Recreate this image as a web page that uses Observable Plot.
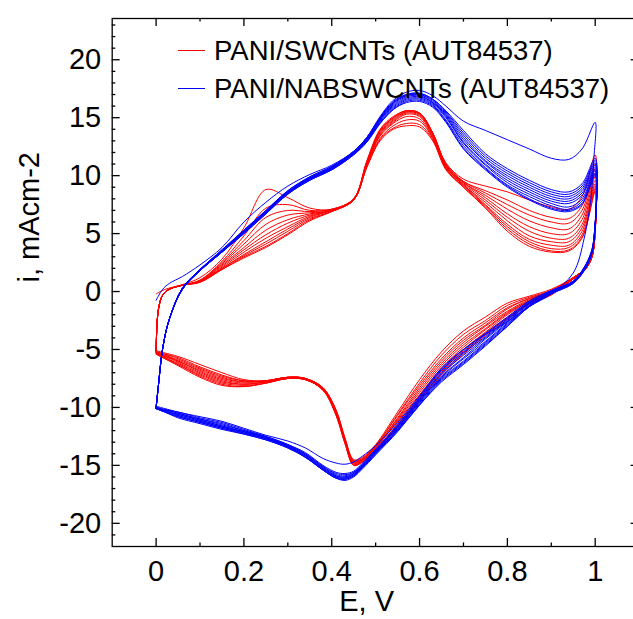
<!DOCTYPE html>
<html><head><meta charset="utf-8">
<script src="https://cdn.jsdelivr.net/npm/d3@7"></script>
<script src="https://cdn.jsdelivr.net/npm/@observablehq/plot@0.6"></script>
<style>
html,body{margin:0;padding:0;background:#fff;overflow:hidden}
#wrap{position:relative;width:633px;height:619px;overflow:hidden;background:#fff}
#wrap svg{max-width:none !important}
.lg{position:absolute;left:178px;height:0;font-family:"Liberation Sans",Arial,sans-serif;font-size:27.5px;color:#000;white-space:nowrap}
.lg span.sw{position:absolute;left:0;top:-1px;width:27px;height:0;border-top:1.5px solid}
.lg span.tx{position:absolute;left:36px;top:0;transform:translateY(-50%);line-height:1}
</style></head>
<body><div id="wrap"></div>
<script>
// Series
const seriesNames = ["PANI/SWCNTs (AUT84537)", "PANI/NABSWCNTs (AUT84537)"];
const seriesColors = ["#ff0000", "#0000ff"];

// Potential grids (V): anodic (forward) sweep and cathodic (reverse) sweep
const fwdE = [0, 0.005, 0.015, 0.03, 0.06, 0.1, 0.15, 0.2, 0.25, 0.3, 0.35, 0.4, 0.45, 0.48, 0.51, 0.54, 0.57, 0.6, 0.63, 0.66, 0.7, 0.75, 0.8, 0.85, 0.9, 0.94, 0.97, 1.0];
const revE = [0.997, 0.99, 0.975, 0.95, 0.9, 0.85, 0.8, 0.75, 0.7, 0.65, 0.6, 0.55, 0.5, 0.47, 0.45, 0.43, 0.41, 0.38, 0.34, 0.3, 0.25, 0.2, 0.15, 0.1, 0.05, 0.02, 0.0];

// PANI/SWCNTs, current density (mA cm-2), one row per cycle
const redFwd = [
  [-0.2, -0.1, 0.1, 0.3, 0.6, 1.2, 2.8, 5.5, 8.8, 8.1, 7.2, 7.1, 8.0, 11.3, 14.0, 15.1, 15.6, 15.4, 13.7, 11.1, 9.7, 9.1, 8.6, 7.9, 7.3, 7.1, 8.2, 11.8],
  [-5.2, -1.6, -0.3, 0.2, 0.55, 1.0, 2.6, 4.8, 7.2, 7.5, 7.0, 7.1, 8.0, 11.2, 13.9, 15.0, 15.6, 15.4, 13.7, 11.0, 9.5, 8.7, 7.9, 7.0, 6.4, 6.3, 7.4, 11.0],
  [-5.2, -1.6, -0.3, 0.2, 0.55, 0.95, 2.5, 4.4, 6.4, 7.0, 6.9, 7.1, 8.0, 11.2, 13.9, 15.0, 15.6, 15.4, 13.7, 11.0, 9.5, 8.5, 7.5, 6.6, 6.0, 5.9, 7.0, 10.6],
  [-5.2, -1.6, -0.3, 0.2, 0.55, 0.95, 2.4, 4.1, 5.8, 6.6, 6.8, 7.0, 8.0, 11.1, 13.8, 14.9, 15.5, 15.3, 13.6, 10.9, 9.4, 8.3, 7.1, 6.1, 5.5, 5.4, 6.6, 10.2],
  [-5.2, -1.6, -0.3, 0.2, 0.55, 0.9, 2.3, 3.8, 5.3, 6.2, 6.7, 7.0, 8.0, 11.1, 13.7, 14.8, 15.5, 15.3, 13.6, 10.9, 9.4, 8.1, 6.7, 5.6, 5.0, 5.0, 6.2, 9.9],
  [-5.2, -1.6, -0.3, 0.2, 0.55, 0.9, 2.2, 3.6, 4.9, 5.9, 6.6, 7.0, 8.0, 11.0, 13.6, 14.7, 15.4, 15.2, 13.5, 10.8, 9.3, 7.9, 6.4, 5.2, 4.6, 4.6, 5.8, 9.6],
  [-5.2, -1.6, -0.3, 0.2, 0.55, 0.85, 2.1, 3.4, 4.6, 5.6, 6.5, 7.0, 7.9, 11.0, 13.5, 14.6, 15.3, 15.1, 13.4, 10.8, 9.2, 7.7, 6.1, 4.8, 4.3, 4.3, 5.5, 9.3],
  [-5.2, -1.6, -0.3, 0.2, 0.55, 0.85, 2.0, 3.2, 4.3, 5.4, 6.4, 7.0, 7.9, 10.9, 13.4, 14.5, 15.1, 14.9, 13.3, 10.7, 9.2, 7.5, 5.8, 4.5, 4.0, 4.0, 5.2, 9.1],
  [-5.2, -1.6, -0.3, 0.2, 0.55, 0.85, 2.0, 3.1, 4.1, 5.2, 6.3, 6.9, 7.9, 10.8, 13.2, 14.3, 14.8, 14.7, 13.2, 10.6, 9.1, 7.4, 5.6, 4.3, 3.7, 3.8, 4.9, 8.9],
  [-5.2, -1.6, -0.3, 0.2, 0.55, 0.8, 1.9, 3.0, 3.9, 5.0, 6.2, 6.9, 7.9, 10.8, 13.1, 14.1, 14.5, 14.4, 13.1, 10.6, 9.0, 7.3, 5.4, 4.1, 3.5, 3.6, 4.7, 8.7],
  [-5.2, -1.6, -0.3, 0.2, 0.55, 0.8, 1.9, 2.9, 3.8, 4.9, 6.1, 6.9, 7.9, 10.7, 13.0, 14.0, 14.3, 14.2, 13.0, 10.5, 9.0, 7.2, 5.2, 3.9, 3.4, 3.5, 4.6, 8.6]
];
const redRev = [
  [3.9, 2.8, 1.9, 1.2, 0.2, -0.4, -1.0, -2.2, -3.4, -5.2, -7.6, -10.4, -13.2, -14.3, -14.5, -12.6, -10.2, -8.3, -7.5, -7.4, -7.7, -7.6, -7.0, -6.3, -5.6, -5.3, -5.1],
  [3.9, 2.8, 1.9, 1.2, 0.1, -0.5, -1.2, -2.5, -3.7, -5.5, -7.9, -10.6, -13.3, -14.4, -14.6, -12.7, -10.3, -8.3, -7.5, -7.4, -7.7, -7.7, -7.2, -6.5, -5.7, -5.4, -5.2],
  [3.9, 2.8, 1.9, 1.2, 0.05, -0.6, -1.4, -2.7, -4.0, -5.8, -8.1, -10.7, -13.3, -14.4, -14.6, -12.7, -10.3, -8.3, -7.5, -7.4, -7.7, -7.7, -7.3, -6.6, -5.8, -5.4, -5.2],
  [3.9, 2.8, 1.9, 1.2, 0.0, -0.6, -1.5, -2.9, -4.2, -6.0, -8.3, -10.9, -13.4, -14.5, -14.7, -12.8, -10.4, -8.4, -7.5, -7.4, -7.7, -7.8, -7.4, -6.7, -5.9, -5.5, -5.2],
  [3.9, 2.8, 1.9, 1.2, 0.0, -0.7, -1.7, -3.0, -4.4, -6.2, -8.5, -11.0, -13.4, -14.5, -14.7, -12.8, -10.4, -8.4, -7.5, -7.4, -7.7, -7.8, -7.5, -6.8, -6.0, -5.5, -5.3],
  [3.9, 2.8, 1.9, 1.2, -0.05, -0.8, -1.8, -3.2, -4.6, -6.4, -8.7, -11.1, -13.5, -14.5, -14.8, -12.9, -10.5, -8.4, -7.6, -7.4, -7.8, -7.9, -7.6, -6.9, -6.0, -5.6, -5.3],
  [3.8, 2.7, 1.8, 1.1, -0.1, -0.8, -1.9, -3.3, -4.8, -6.6, -8.9, -11.2, -13.5, -14.6, -14.8, -12.9, -10.5, -8.4, -7.6, -7.5, -7.8, -8.0, -7.7, -7.0, -6.1, -5.6, -5.3],
  [3.8, 2.7, 1.8, 1.1, -0.15, -0.9, -2.0, -3.5, -5.0, -6.8, -9.0, -11.4, -13.6, -14.6, -14.9, -13.0, -10.6, -8.5, -7.6, -7.5, -7.8, -8.0, -7.8, -7.1, -6.2, -5.7, -5.3],
  [3.8, 2.7, 1.8, 1.1, -0.2, -1.0, -2.2, -3.6, -5.1, -6.9, -9.2, -11.5, -13.7, -14.7, -14.9, -13.0, -10.6, -8.5, -7.6, -7.5, -7.9, -8.1, -7.9, -7.2, -6.3, -5.7, -5.4],
  [3.8, 2.7, 1.8, 1.1, -0.25, -1.0, -2.3, -3.7, -5.3, -7.1, -9.3, -11.6, -13.7, -14.7, -15.0, -13.1, -10.7, -8.5, -7.6, -7.5, -7.9, -8.2, -8.0, -7.3, -6.3, -5.8, -5.4],
  [3.8, 2.7, 1.8, 1.1, -0.3, -1.1, -2.4, -3.8, -5.4, -7.2, -9.4, -11.7, -13.8, -14.7, -15.0, -13.1, -10.7, -8.5, -7.6, -7.5, -7.9, -8.2, -8.1, -7.4, -6.4, -5.8, -5.4]
];

// PANI/NABSWCNTs, current density (mA cm-2), one row per cycle
const blueFwd = [
  [-0.75, -0.4, 0.2, 0.7, 1.3, 2.3, 3.8, 6.0, 7.7, 9.1, 10.1, 10.9, 12.1, 13.3, 15.1, 16.5, 17.2, 17.35, 16.9, 16.0, 14.7, 13.9, 13.1, 12.3, 11.5, 11.4, 12.3, 14.6],
  [-9.9, -8.2, -4.9, -2.4, 0.3, 1.9, 3.6, 5.3, 7.0, 8.7, 9.9, 10.8, 12.1, 13.3, 15.0, 16.4, 17.0, 17.1, 16.6, 15.6, 13.9, 11.9, 10.6, 9.6, 8.8, 8.6, 9.3, 11.5],
  [-10.0, -8.2, -4.9, -2.4, 0.3, 1.9, 3.6, 5.3, 7.0, 8.7, 9.9, 10.8, 12.1, 13.3, 15.0, 16.3, 17.0, 17.1, 16.6, 15.5, 13.7, 11.7, 10.4, 9.4, 8.6, 8.4, 9.1, 11.3],
  [-10.0, -8.2, -4.9, -2.4, 0.3, 1.9, 3.5, 5.2, 6.9, 8.6, 9.8, 10.7, 12.0, 13.2, 14.9, 16.3, 16.9, 17.0, 16.5, 15.4, 13.5, 11.5, 10.2, 9.2, 8.4, 8.2, 8.9, 11.1],
  [-10.0, -8.2, -4.9, -2.4, 0.3, 1.9, 3.5, 5.2, 6.9, 8.6, 9.8, 10.7, 12.0, 13.2, 14.9, 16.2, 16.9, 17.0, 16.4, 15.3, 13.3, 11.3, 10.0, 9.0, 8.2, 8.0, 8.7, 10.9],
  [-10.0, -8.2, -4.9, -2.4, 0.3, 1.9, 3.5, 5.2, 6.9, 8.6, 9.8, 10.7, 12.0, 13.1, 14.8, 16.1, 16.8, 16.9, 16.3, 15.2, 13.1, 11.2, 9.8, 8.8, 8.0, 7.8, 8.5, 10.7],
  [-10.0, -8.2, -4.9, -2.4, 0.2, 1.8, 3.5, 5.1, 6.8, 8.5, 9.7, 10.6, 11.9, 13.1, 14.8, 16.0, 16.7, 16.8, 16.3, 15.1, 12.9, 11.0, 9.6, 8.6, 7.8, 7.6, 8.3, 10.5],
  [-10.1, -8.2, -4.9, -2.4, 0.2, 1.8, 3.4, 5.1, 6.8, 8.5, 9.7, 10.6, 11.9, 13.0, 14.7, 15.9, 16.6, 16.7, 16.2, 15.0, 12.8, 10.9, 9.4, 8.4, 7.6, 7.3, 8.0, 10.4],
  [-10.1, -8.2, -4.9, -2.4, 0.2, 1.8, 3.4, 5.1, 6.8, 8.5, 9.7, 10.6, 11.9, 13.0, 14.6, 15.8, 16.5, 16.6, 16.1, 14.8, 12.6, 10.7, 9.2, 8.2, 7.4, 7.1, 7.8, 10.2],
  [-10.1, -8.2, -4.9, -2.4, 0.2, 1.8, 3.4, 5.0, 6.7, 8.4, 9.6, 10.5, 11.8, 12.9, 14.5, 15.7, 16.4, 16.5, 16.0, 14.7, 12.4, 10.6, 9.1, 8.0, 7.2, 7.0, 7.6, 10.1],
  [-10.1, -8.2, -4.9, -2.4, 0.2, 1.8, 3.4, 5.0, 6.7, 8.4, 9.6, 10.5, 11.8, 12.9, 14.5, 15.7, 16.3, 16.4, 15.9, 14.6, 12.3, 10.5, 9.0, 7.9, 7.1, 6.9, 7.5, 10.0]
];
const blueRev = [
  [11.5, 8.0, 4.6, 1.6, -0.2, -1.3, -2.6, -3.7, -5.0, -6.6, -9.0, -11.3, -13.3, -14.2, -14.7, -14.9, -14.8, -14.4, -13.5, -12.9, -12.4, -11.8, -11.2, -10.8, -10.4, -10.1, -9.9],
  [4.6, 3.3, 2.1, 0.9, 0.1, -0.8, -2.2, -3.6, -5.0, -6.7, -9.1, -11.5, -13.6, -14.8, -15.5, -15.7, -15.6, -15.0, -13.9, -13.2, -12.5, -11.9, -11.3, -10.9, -10.4, -10.2, -10.0],
  [4.6, 3.3, 2.1, 0.9, 0.05, -0.9, -2.3, -3.7, -5.2, -6.8, -9.2, -11.6, -13.7, -14.9, -15.6, -15.8, -15.7, -15.1, -14.0, -13.2, -12.5, -12.0, -11.4, -11.0, -10.5, -10.2, -10.0],
  [4.5, 3.2, 2.0, 0.9, 0.0, -0.9, -2.4, -3.9, -5.3, -7.0, -9.3, -11.7, -13.7, -14.9, -15.6, -15.9, -15.8, -15.1, -14.0, -13.3, -12.6, -12.0, -11.5, -11.0, -10.5, -10.2, -10.0],
  [4.5, 3.2, 2.0, 0.8, 0.0, -1.0, -2.5, -4.0, -5.5, -7.1, -9.4, -11.7, -13.8, -15.0, -15.7, -16.0, -15.9, -15.2, -14.1, -13.3, -12.6, -12.1, -11.6, -11.1, -10.6, -10.3, -10.0],
  [4.5, 3.2, 2.0, 0.8, -0.05, -1.0, -2.6, -4.1, -5.7, -7.3, -9.5, -11.8, -13.8, -15.0, -15.7, -16.0, -15.9, -15.2, -14.1, -13.3, -12.6, -12.1, -11.6, -11.1, -10.6, -10.3, -10.0],
  [4.4, 3.1, 1.9, 0.8, -0.1, -1.1, -2.7, -4.3, -5.8, -7.4, -9.5, -11.9, -13.9, -15.1, -15.8, -16.1, -16.0, -15.3, -14.2, -13.4, -12.7, -12.1, -11.7, -11.2, -10.7, -10.3, -10.1],
  [4.4, 3.1, 1.9, 0.8, -0.1, -1.2, -2.8, -4.4, -6.0, -7.5, -9.6, -11.9, -13.9, -15.1, -15.8, -16.1, -16.0, -15.3, -14.2, -13.4, -12.7, -12.2, -11.7, -11.2, -10.7, -10.3, -10.1],
  [4.4, 3.1, 1.9, 0.8, -0.15, -1.2, -2.9, -4.5, -6.1, -7.6, -9.7, -12.0, -14.0, -15.2, -15.9, -16.2, -16.1, -15.4, -14.3, -13.4, -12.7, -12.2, -11.8, -11.3, -10.8, -10.4, -10.1],
  [4.3, 3.0, 1.8, 0.7, -0.2, -1.3, -3.0, -4.6, -6.2, -7.7, -9.8, -12.0, -14.0, -15.2, -15.9, -16.2, -16.1, -15.4, -14.3, -13.5, -12.8, -12.3, -11.8, -11.3, -10.8, -10.4, -10.1],
  [4.3, 3.0, 1.8, 0.7, -0.2, -1.3, -3.0, -4.7, -6.3, -7.8, -9.8, -12.1, -14.1, -15.3, -16.0, -16.3, -16.1, -15.4, -14.3, -13.5, -12.8, -12.3, -11.9, -11.4, -10.9, -10.4, -10.1]
];

// Axis ticks and labels
const xTicks = [0, 0.2, 0.4, 0.6, 0.8, 1];
const xMinor = [0.1, 0.3, 0.5, 0.7, 0.9];
const yTicks = [-20, -15, -10, -5, 0, 5, 10, 15, 20];
const yMinor = d3.range(-21, 24).filter(v => v % 5 !== 0);
const xLabel = "E, V";
const yLabel = "i, mAcm-2";

function rowsOf(fwd, rev, series) {
  const rows = [];
  fwd.forEach((f, k) => {
    f.forEach((v, j) => rows.push({series, cycle: k, E: fwdE[j], i: v}));
    rev[k].forEach((v, j) => rows.push({series, cycle: k, E: revE[j], i: v}));
  });
  return rows;
}
const redRows = rowsOf(redFwd, redRev, seriesNames[0]);
const blueRows = rowsOf(blueFwd, blueRev, seriesNames[1]);

const W = 640, H = 619, mT = 18, mB = 73, mL = 111.7, mR = 1.4;
const pw = W - mL - mR, ph = H - mT - mB;
const majorLen = 8, minorLen = 3.6;
const fs = 29;
const tickStyle = {stroke: "black", strokeWidth: 1.3};

const chart = Plot.plot({
  width: W, height: H, marginTop: mT, marginBottom: mB, marginLeft: mL, marginRight: mR,
  x: {domain: [-0.1, 1.1]},
  y: {domain: [-22, 23.56]},
  style: {fontFamily: "'Liberation Sans', Arial, sans-serif", background: "white", color: "black", maxWidth: "none"},
  marks: [
    Plot.line(redRows, {x: "E", y: "i", z: "cycle", stroke: seriesColors[0], strokeWidth: 1, curve: "catmull-rom"}),
    Plot.line(blueRows, {x: "E", y: "i", z: "cycle", stroke: seriesColors[1], strokeWidth: 1, curve: "catmull-rom"}),
    Plot.tickX(xTicks, {insetTop: ph - majorLen, ...tickStyle}),
    Plot.tickX(xTicks, {insetBottom: ph - majorLen, ...tickStyle}),
    Plot.tickX(xMinor, {insetTop: ph - minorLen, ...tickStyle}),
    Plot.tickX(xMinor, {insetBottom: ph - minorLen, ...tickStyle}),
    Plot.tickY(yTicks, {insetRight: pw - majorLen, ...tickStyle}),
    Plot.tickY(yTicks, {insetLeft: pw - majorLen, ...tickStyle}),
    Plot.tickY(yMinor, {insetRight: pw - minorLen, ...tickStyle}),
    Plot.tickY(yMinor, {insetLeft: pw - minorLen, ...tickStyle}),
    Plot.frame({stroke: "black", strokeWidth: 1.3}),
    Plot.axisX(xTicks, {anchor: "bottom", tickSize: 0, tickPadding: 14, tickFormat: d => String(d), fontSize: fs, label: null}),
    Plot.axisY(yTicks, {anchor: "left", tickSize: 0, tickPadding: 11, tickFormat: d => String(d), fontSize: fs, label: null}),
    Plot.text([xLabel], {frameAnchor: "bottom", dy: 64, dx: -9, fontSize: fs, fill: "black"}),
    Plot.text([yLabel], {frameAnchor: "left", rotate: -90, dx: -82, fontSize: fs, fill: "black"})
  ]
});
chart.style.maxWidth = "none";

const wrap = document.getElementById("wrap");
wrap.appendChild(chart);
const legendY = [50.5, 88.5];
seriesNames.forEach((name, k) => {
  const d = document.createElement("div");
  d.className = "lg";
  d.style.top = legendY[k] + "px";
  d.innerHTML = `<span class="sw" style="border-color:${seriesColors[k]}"></span><span class="tx">${name}</span>`;
  wrap.appendChild(d);
});
</script>
</body></html>
